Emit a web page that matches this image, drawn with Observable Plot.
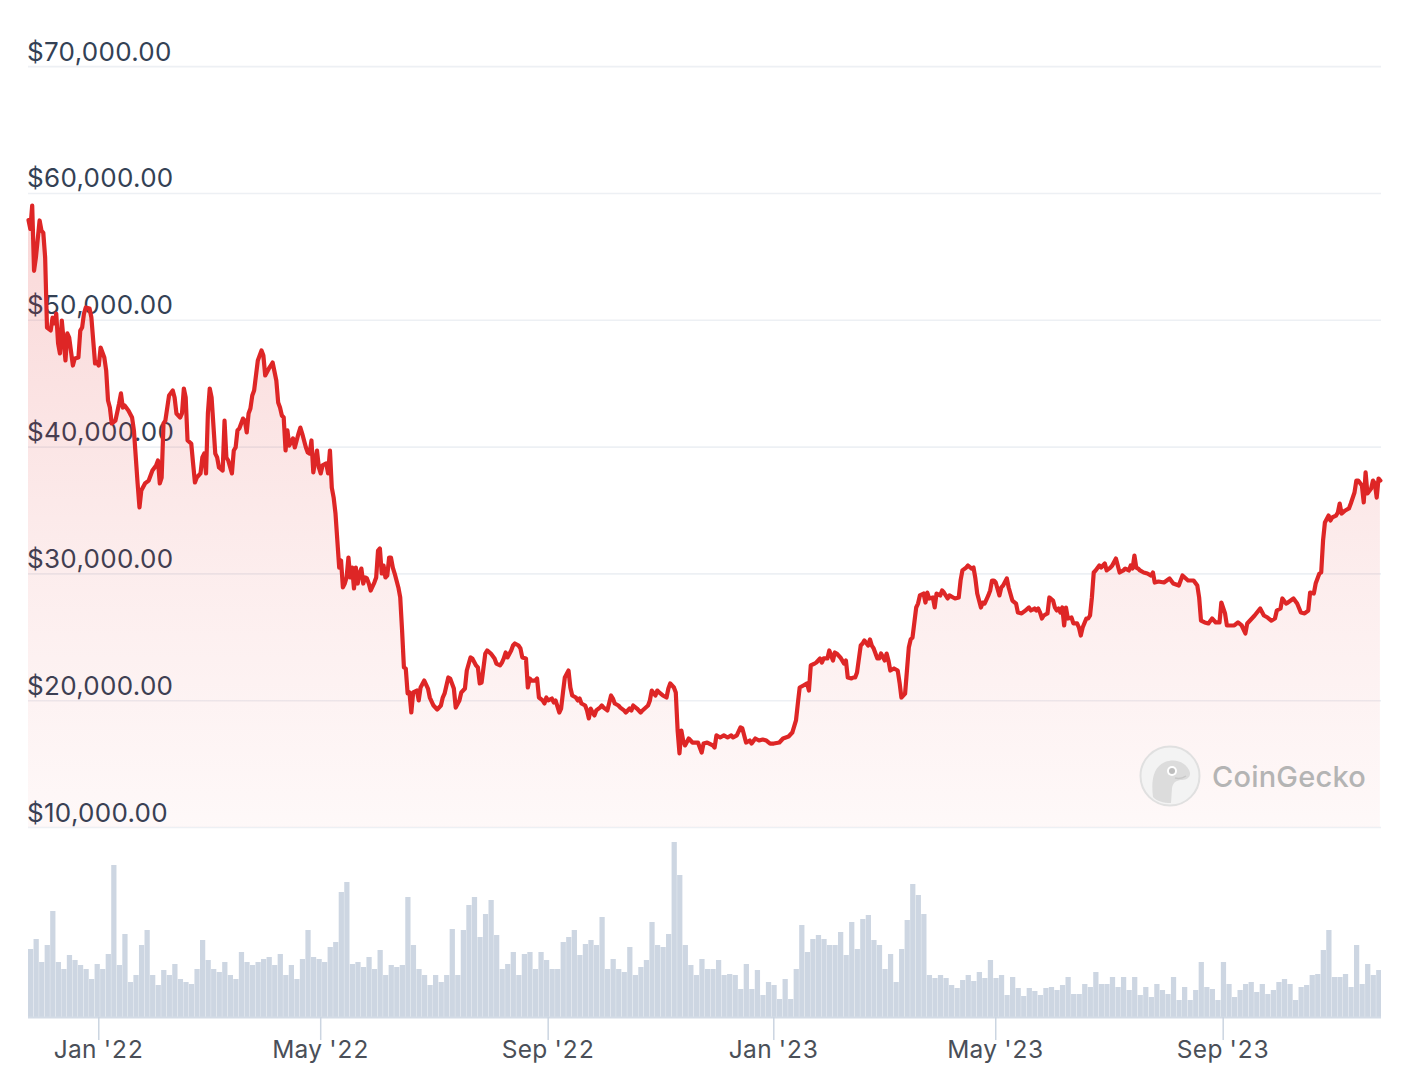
<!DOCTYPE html>
<html>
<head>
<meta charset="utf-8">
<script src="https://cdn.jsdelivr.net/npm/d3@7"></script>
<script src="https://cdn.jsdelivr.net/npm/@observablehq/plot@0.6"></script>
<style>
  html, body { margin: 0; padding: 0; background: #ffffff; }
  #wrap { position: relative; width: 1428px; height: 1086px; overflow: hidden; font-family: Inter, "Liberation Sans", sans-serif; }
  #wrap > svg, #wrap > figure > svg { display: block; }
  #wrap svg text { letter-spacing: 0.3px; }
  #mark { position: absolute; left: 1139px; top: 745px; display: flex; align-items: center; gap: 11px; pointer-events: none; }
  #mark span { font-family: Inter, "Liberation Sans", sans-serif; font-size: 29px; font-weight: 500; color: #b4b4b4; letter-spacing: 0.2px; }
</style>
</head>
<body>
<div id="wrap"></div>
<script>
// ---- data (BTC price, 2 years) ----
const startDate = "2021-11-24";      // day 0
const endDay = 731.6;                // right edge of the chart, in days after startDate

// days after startDate
const days = [0,1,2,3,4,6,7,8,9,10,12,13,14,15,16,17,18,20,21,22,24,25,27,28,29,30,31,33,34,35,36,37,38,39,41,42,43,44,45,47,49,50,51,52,54,56,57,59,60,61,63,65,67,69,70,71,72,73,74,76,78,79,80,82,83,84,85,86,88,89,90,91,93,94,95,96,97,98,99,101,102,103,105,106,107,108,110,111,112,113,114,116,117,118,119,120,121,122,124,126,127,128,130,131,132,134,135,136,137,138,139,140,141,143,144,146,147,148,150,151,152,153,154,156,157,158,159,161,162,163,164,165,166,167,168,169,170,171,172,173,174,175,176,177,178,179,180,181,182,183,184,185,187,188,189,190,191,192,193,194,195,196,197,198,200,201,202,203,204,205,206,207,208,210,211,212,214,216,217,219,221,223,224,225,227,228,230,231,233,234,236,237,239,240,242,243,244,245,247,248,250,252,253,255,256,257,258,259,261,262,263,265,266,267,269,270,271,272,274,275,276,278,279,280,281,283,284,285,287,288,289,290,292,293,294,296,297,298,299,301,302,303,304,305,306,307,309,310,311,313,315,316,317,319,320,322,323,325,326,327,329,331,332,335,336,337,339,340,341,343,345,346,347,349,350,351,352,353,354,355,357,359,362,364,365,367,370,371,372,374,376,378,380,381,383,385,386,388,390,391,393,395,397,399,401,403,406,408,411,413,415,416,417,419,421,422,423,425,426,428,429,430,432,433,435,436,437,439,441,442,443,445,446,447,448,450,451,452,454,455,456,457,459,460,461,463,464,465,466,468,470,471,472,474,475,476,477,478,480,481,482,484,485,486,487,489,490,491,493,494,495,497,498,500,501,503,504,505,507,508,510,511,512,513,515,516,517,519,520,521,522,523,525,526,527,529,530,532,534,535,537,539,541,542,544,545,546,547,548,549,551,552,554,555,556,557,558,559,560,561,562,564,565,567,568,569,570,572,573,574,575,576,577,579,580,581,582,583,585,586,588,589,590,592,593,595,596,597,598,599,600,601,603,605,607,608,609,611,614,617,619,622,624,627,630,632,633,634,636,638,640,642,644,645,647,648,650,652,654,656,658,659,662,663,666,668,670,672,674,675,677,678,680,681,684,686,688,690,692,693,695,696,698,699,700,701,703,704,705,707,708,709,710,712,714,715,717,718,719,721,722,723,724,726,727,728,729,730,731];

// price in USD
const prices = [57900,57200,59050,53900,54950,57870,57080,56900,54950,49430,49200,50200,49750,50530,48170,47380,49980,46830,48960,48640,46430,46990,47070,49190,49430,50530,51010,50930,50220,48400,46590,46670,46430,47850,47060,46040,43670,43120,41860,42090,43440,44230,43120,43280,42890,42330,41310,37130,35240,36580,37130,37360,38150,38550,38940,37130,37600,41860,42090,44070,44460,43910,42650,42330,42650,44620,43910,40520,40280,38710,37210,37600,37920,39180,39490,37920,42650,44620,43910,39490,39180,38390,38150,42090,39180,38940,37920,39730,39970,41310,41470,42250,42090,41150,42650,43040,44070,44460,46830,47620,47220,45650,46200,46430,46670,45250,43520,43120,42490,42330,39730,41310,40120,40680,39970,41070,41540,41070,39970,39570,39490,40520,38000,39730,38390,37920,38550,38710,37920,39730,36810,36020,34760,32630,30500,31060,28930,29240,29720,31290,29720,30500,28850,30500,29240,30030,30420,29240,29720,29640,29240,28690,29320,29720,31840,32000,30030,30660,29720,29870,31290,31290,30500,30030,28930,28140,25540,22620,22540,20570,20650,19070,20650,20800,20020,21040,21590,20960,20250,19620,19310,19620,20250,20570,21830,21750,20960,19460,20020,20650,20960,22380,23410,23330,22780,22620,21360,21430,23720,23960,23720,23330,22930,22780,23010,23330,23800,23410,23960,24350,24510,24350,24120,23410,23330,21040,21750,21590,21590,21750,20250,20020,19780,20250,20020,20170,19860,20020,19070,19380,20650,21830,22380,21040,20410,20250,20020,20170,19780,19620,19230,18600,19380,19070,18830,19230,19460,19620,19460,19230,20410,20170,19780,19620,19460,19230,19070,19380,19230,19620,19380,19070,19230,19620,20020,20800,20410,20800,20650,20410,20250,20960,21360,21040,20650,17650,15840,17650,16860,16470,17020,16700,16700,15910,16620,16700,16470,16310,17260,17100,17260,17100,17260,17100,17260,17890,17810,16700,16860,16620,17020,16860,16940,16860,16620,16620,16700,17020,17180,17490,18440,19780,21040,21200,21360,20800,22780,22930,23010,23330,23010,23330,23330,23960,23170,23800,23720,23410,22930,23170,21830,21750,21830,21830,22220,24350,24510,24750,24350,24830,24350,24120,23330,23330,23720,23170,23720,23170,22380,22540,22380,21430,20250,20570,22380,24190,24830,24980,27350,27660,28300,28450,27740,28530,28060,28140,27350,28450,28300,28690,28530,28060,28300,28140,28060,28140,29480,30270,30500,30660,30420,30500,29640,28450,27350,27740,27660,28300,28690,29480,29480,29320,28300,28930,29080,29640,28930,27900,27660,26950,26880,27110,27350,27110,27270,27110,27270,26950,26480,26720,26880,28140,27900,27350,27110,27270,26950,27350,25930,27350,26480,26560,26090,26090,25770,25140,25770,26480,26480,26720,28140,30110,30270,30660,30500,30660,30820,30270,30500,30660,31210,30660,30110,30270,30420,30270,30660,30420,31450,30500,30420,30270,30110,30030,29870,30110,29320,29400,29320,29640,29240,29080,29870,29480,29480,29080,28140,26320,26170,26090,26480,26170,26170,27740,26880,25930,25930,25930,26170,25930,25300,26090,26560,26720,27270,26720,26560,26320,26480,27110,27270,28060,27660,27740,28060,27660,26950,26880,27110,28530,28450,29240,30030,30110,32630,34050,34600,34210,34450,34600,34840,35550,34760,35000,35160,35550,36420,37360,37360,36970,35630,38000,36340,36730,37360,37130,36020,37520,37360];

// 24h volume in billions USD, one value per 3-day step starting at startDate
const volumeStepDays = 3;
const volumes = [
  34,39,27.5,36,53,27.5,24,31,28.5,26,24,19,26.5,24,31.5,76,26,41.5,17.5,21,36,43.5,21,16,23.5,21,26.5,19,17.5,16.5,24,38.5,28.5,24,22.5,27.5,21,19,32.5,27.5,26,27.5,29,30,26,31.5,21,26,19,29,43.5,30,29,27.5,35,37.5,62.5,67.5,26.5,27.5,25,30,
  24,33.5,21,26,25,26,60,36,24,21,16,21,17.5,21,44,21,43.5,56,60,40,51.5,58.5,41,24,26.5,32.5,21,31.5,32.5,24,32.5,28.5,24,24,37.5,40,43.5,31,36.5,38.5,36,50,24,29,24,22.5,35,21,25,28.5,47.5,36,35,41.5,87.5,71,36,26,21,29,24,
  24,28.5,21,21.5,21,14,26.5,14,23.5,11,17.5,16,9,19,9,24,46,32.5,39,41,39,36,36,42.5,31,47.5,34,49,51,38.5,36,24,31.5,17.5,34,48.5,66.5,61,51.5,21,19.5,21,19.5,16,14.5,18.5,21,18,22.5,19.5,28.5,19.5,21,11,20,14.5,10.5,14.5,13,11,14.5,
  15,13.5,16,20,11.5,11.5,16.5,15,22.5,16.5,16.5,20,15,20,13.5,20,11,15,10,16.5,13.5,11.5,20,8.5,15,8.5,13.5,27.5,15,14,8.5,27.5,16.5,10,13.5,16.5,17.5,12.5,16.5,11.5,13.5,17.5,19,16.5,8.5,15,16,21,21.5,33.5,43.5,20,20,21.5,15,36,16.5,26.5,21,23.5,20
];

const priceTicks = [10000, 20000, 30000, 40000, 50000, 60000, 70000];
const tickDates = ["2022-01-01", "2022-05-01", "2022-09-01", "2023-01-01", "2023-05-01", "2023-09-01"];
const tickLabels = ["Jan '22", "May '22", "Sep '22", "Jan '23", "May '23", "Sep '23"];

// ---- build ----
const DAY = 864e5;
const t0 = Date.parse(startDate + "T00:00:00Z");
const toDate = d => new Date(t0 + d * DAY);
const xDomain = [toDate(0), toDate(endDay)];

const series = days.map((d, i) => ({ date: toDate(d), price: prices[i] }));
const volData = volumes.map((v, i) => ({
  x1: toDate(i * volumeStepDays),
  x2: toDate((i + 1) * volumeStepDays),
  v
}));
const tickDateObjs = tickDates.map(s => new Date(s + "T00:00:00Z"));
const labelMap = new Map(tickDateObjs.map((d, i) => [+d, tickLabels[i]]));
const fmtPrice = d3.format("$,.2f");

const W = 1428, ML = 28, MR = 47;
const FONT = "Inter, 'Liberation Sans', sans-serif";

const pricePlot = Plot.plot({
  width: W, height: 830,
  marginLeft: ML, marginRight: MR, marginTop: 0, marginBottom: 3,
  x: { type: "utc", domain: xDomain, axis: null },
  y: { domain: [10000, 75217], axis: null },
  style: { fontFamily: FONT, background: "transparent", overflow: "visible" },
  marks: [
    Plot.ruleY(priceTicks, { stroke: "#edf0f4", strokeWidth: 1.6 }),
    Plot.text(priceTicks, {
      y: d => d, text: d => fmtPrice(d), frameAnchor: "left",
      textAnchor: "start", lineAnchor: "bottom", dx: -1.5, dy: -6,
      fontSize: 26, fill: "#334155"
    }),
    Plot.areaY(series, { x: "date", y1: 10000, y2: "price", fill: "url(#priceFill)" }),
    Plot.lineY(series, { x: "date", y: "price", stroke: "#de2626", strokeWidth: 4.2, strokeLinejoin: "round", strokeLinecap: "round" })
  ]
});

// gradient for the area under the price line
const svgNS = "http://www.w3.org/2000/svg";
const psvg = pricePlot.tagName.toLowerCase() === "svg" ? pricePlot : pricePlot.querySelector("svg");
const defs = document.createElementNS(svgNS, "defs");
defs.innerHTML = '<linearGradient id="priceFill" x1="0" y1="0" x2="0" y2="1">' +
  '<stop offset="0" stop-color="#e02424" stop-opacity="0.18"/>' +
  '<stop offset="0.6" stop-color="#e02424" stop-opacity="0.08"/>' +
  '<stop offset="1" stop-color="#e02424" stop-opacity="0.03"/></linearGradient>';
psvg.insertBefore(defs, psvg.firstChild);

const volPlot = Plot.plot({
  width: W, height: 256,
  marginLeft: ML, marginRight: MR, marginTop: 0, marginBottom: 69,
  x: { type: "utc", domain: xDomain },
  y: { domain: [0, 93.5], axis: null },
  style: { fontFamily: FONT, background: "transparent", overflow: "visible" },
  marks: [
    Plot.rectY(volData, { x1: "x1", x2: "x2", y: "v", fill: "#cdd6e2", insetRight: 0.3, clip: true }),
    Plot.ruleY([0], { stroke: "#d3dbe6", strokeWidth: 2 }),
    Plot.axisX({
      ticks: tickDateObjs, tickFormat: d => labelMap.get(+d),
      tickSize: 23, tickPadding: 0, fontSize: 24.5,
      stroke: "#cbd5e1", strokeWidth: 1.5, fill: "#4a4f58"
    })
  ]
});

const wrap = document.getElementById("wrap");
wrap.appendChild(pricePlot);
wrap.appendChild(volPlot);

// CoinGecko watermark
const mark = document.createElement("div");
mark.id = "mark";
mark.innerHTML =
  '<svg width="62" height="62" viewBox="0 0 62 62">' +
  '<circle cx="31" cy="31" r="29.5" fill="#f3f3f3" stroke="#e0e0e0" stroke-width="2"/>' +
  '<path d="M14 52 C12 36 14 22 26 17 C36 13 46 17 50 25 C53 31 49 35 43 35 C38 35 34 37 33 43 L32 58 C24 58 18 56 14 52 Z" fill="#dcdcdc"/>' +
  '<circle cx="33" cy="26" r="5" fill="#ffffff"/><circle cx="33" cy="26" r="3" fill="#bdbdbd"/>' +
  '<path d="M36 33 C40 34 44 33 47 31" stroke="#c8c8c8" stroke-width="1.5" fill="none"/>' +
  '</svg><span>CoinGecko</span>';
wrap.appendChild(mark);
</script>
</body>
</html>
